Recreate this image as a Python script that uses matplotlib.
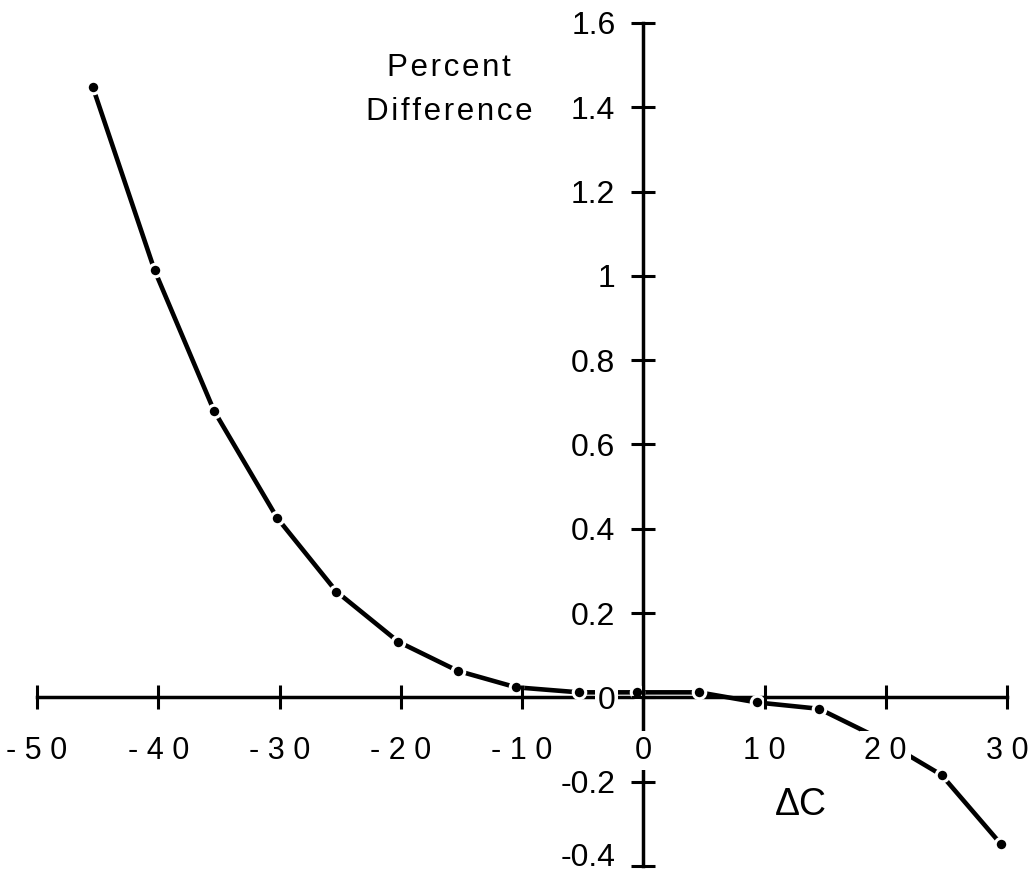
import matplotlib
matplotlib.use("Agg")
import matplotlib.pyplot as plt

plt.rcParams['font.family'] = ['Liberation Sans', 'DejaVu Sans']
plt.rcParams['axes.unicode_minus'] = False

# Data
delta_c = [-45.4, -40.3, -35.4, -30.2, -25.3, -20.2, -15.3, -10.5, -5.3, -0.5,
           4.6, 9.4, 14.5, 19.8, 24.6, 29.5]
pct_diff = [1.448, 1.013, 0.680, 0.426, 0.251, 0.132, 0.063, 0.024, 0.012, 0.012,
            0.012, -0.012, -0.027, -0.102, -0.184, -0.348]

x_ticks = [-50, -40, -30, -20, -10, 0, 10, 20, 30]
x_tick_labels = ["- 5 0", "- 4 0", "- 3 0", "- 2 0", "- 1 0", "0", "1 0", "2 0", "3 0"]
y_ticks = [-0.4, -0.2, 0, 0.2, 0.4, 0.6, 0.8, 1.0, 1.2, 1.4, 1.6]
y_tick_labels = ["-0.4", "-0.2", "0", "0.2", "0.4", "0.6", "0.8", "1", "1.2", "1.4", "1.6"]

HS = "\u200a"  # hair space for letter spacing


def spaced(s, sep):
    return sep.join(list(s))


fig = plt.figure(figsize=(10.33, 8.72), dpi=100)
ax = fig.add_axes([37/1033, 6/872, 970/1033, 843/872])
ax.set_xlim(-50, 30)
ax.set_ylim(-0.4, 1.6)

ax.plot(delta_c, pct_diff, color='black', lw=3.3, marker='o', ms=9,
        mfc='black', mec='white', mew=2.2, clip_on=False, zorder=3)

for s in ['top', 'right']:
    ax.spines[s].set_visible(False)
ax.spines['left'].set_position(('data', 0))
ax.spines['bottom'].set_position(('data', 0))
ax.spines['left'].set_linewidth(2.5)
ax.spines['bottom'].set_linewidth(2.5)

ax.set_xticks(x_ticks)
ax.set_xticklabels(x_tick_labels)
ax.set_yticks(y_ticks)
ax.set_yticklabels(y_tick_labels)
ax.tick_params(axis='both', direction='inout', length=17, width=2.2)
ax.tick_params(axis='x', pad=19, labelsize=22)
ax.tick_params(axis='y', pad=11.5, labelsize=23)
ax.xaxis.set_zorder(4)
ax.yaxis.set_zorder(4)

for lab in ax.get_xticklabels():
    lab.set_bbox(dict(fc='white', ec='none', pad=3))
for lab in ax.get_yticklabels():
    lab.set_bbox(dict(fc='white', ec='none', pad=2))
ax.get_yticklabels()[0].set_va('baseline')

ax.text(-16.0, 1.441, spaced("Percent", HS) + "\n" + spaced("Difference", HS),
        ha='center', va='center', fontsize=22.5, linespacing=1.6)
ax.text(13, -0.256, "\u0394C", ha='center', va='center', fontsize=27)

fig.savefig("out.png", dpi=100)
